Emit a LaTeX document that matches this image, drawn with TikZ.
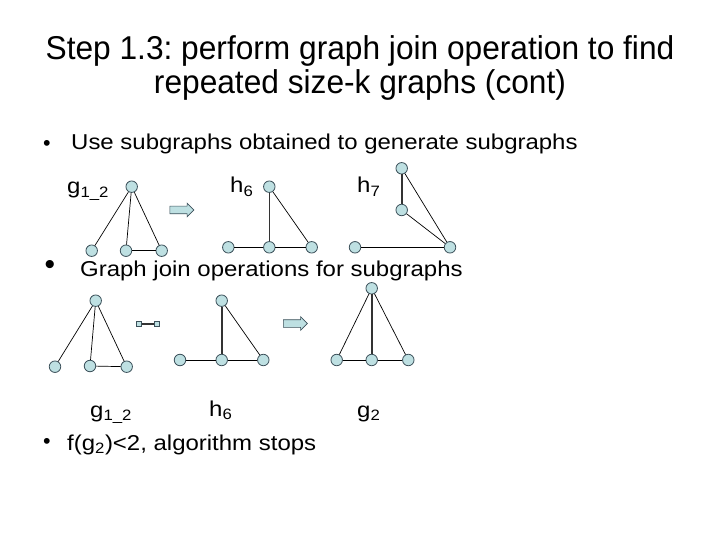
\documentclass[tikz,border=0pt]{standalone}
\usepackage{fontspec}
\setmainfont{Liberation Sans}
\newfontfamily\titlefont{Liberation Sans}[FakeStretch=0.96]
\newfontfamily\bodyfont{Liberation Sans}[FakeStretch=1.115]
\usetikzlibrary{shapes.arrows}
\definecolor{vfill}{RGB}{190,224,226}
\definecolor{vdraw}{RGB}{60,80,90}
\frenchspacing
\begin{document}
\begin{tikzpicture}[x=1pt,y=-1pt,
  vtx/.style={circle,draw=vdraw,fill=vfill,line width=0.8pt,minimum size=11.5pt,inner sep=0pt},
  edg/.style={draw=black,line width=0.7pt},
  thk/.style={draw=black!80,line width=1.6pt},
  ttl/.style={font=\titlefont\fontsize{33}{38}\selectfont,anchor=base,inner sep=0pt},
  txt/.style={font=\bodyfont\fontsize{21.5}{26}\selectfont,anchor=base west,inner sep=0pt},
  bul/.style={font=\fontsize{21.5}{26}\selectfont,anchor=center,inner sep=0pt},
  blockarrow/.style={single arrow,draw=vdraw,fill=vfill,line width=0.6pt,minimum height=24pt,inner xsep=0pt,inner ysep=3.5pt,single arrow head extend=3pt},
  joinend/.style={draw=vdraw,fill=vfill,line width=0.6pt,minimum width=5pt,minimum height=5pt,inner sep=0pt}]
\useasboundingbox (0,0) rectangle (720,540);
\fill[white] (0,0) rectangle (720,540);
% title
\node[ttl] (t1) at (360,60) {\frenchspacing Step 1.3: perform graph join operation to find};
\node[ttl] (t2) at (360,94) {repeated size-k graphs (cont)};
% bullets
\node[bul] (b1) at (47,145) {\textbullet};
\node[txt] (s1) at (71,149.5) {Use subgraphs obtained to generate subgraphs};
\node[bul,font=\fontsize{30}{34}\selectfont] (b2) at (50,267) {\textbullet};
\node[txt] (s2) at (80,276) {Graph join operations for subgraphs};
\node[bul] (b3) at (47,443) {\textbullet};
\node[txt] (s3) at (67,450) {f(g\textsubscript{2})<2, algorithm stops};
% labels row 1
\node[txt] (lg12a) at (67,194) {g\textsubscript{1\_2}};
\node[txt] (lh6a) at (230,193) {h\textsubscript{6}};
\node[txt] (lh7a) at (357,193) {h\textsubscript{7}};
% labels row 2
\node[txt] (lg12b) at (90,417) {g\textsubscript{1\_2}};
\node[txt] (lh6b) at (209,416) {h\textsubscript{6}};
\node[txt] (lg2) at (357,417) {g\textsubscript{2}};
% row1 g1_2
\node[vtx] (a0) at (131.7,186.7) {};
\node[vtx] (a1) at (91.7,250.7) {};
\node[vtx] (a2) at (126,250.7) {};
\node[vtx] (a3) at (161.7,250.7) {};
\draw[edg] (a0) -- (a1); \draw[edg] (a0) -- (a2); \draw[edg] (a0) -- (a3); \draw[edg] (a2) -- (a3);
\node[blockarrow] (ar1) at (180,210) {};
% row1 h6
\node[vtx] (b0) at (269.3,186.7) {};
\node[vtx] (bl) at (228.3,247.3) {};
\node[vtx] (bm) at (269.3,247.3) {};
\node[vtx] (br) at (311.7,247.3) {};
\draw[thk] (b0) -- (bm); \draw[edg] (b0) -- (br); \draw[edg] (bl) -- (bm); \draw[edg] (bm) -- (br);
% row1 h7
\node[vtx] (c0) at (401.7,168.3) {};
\node[vtx] (c1) at (401.7,210) {};
\node[vtx] (cl) at (355,247.3) {};
\node[vtx] (cr) at (450,247.3) {};
\draw[thk] (c0) -- (c1); \draw[edg] (c0) -- (cr); \draw[edg] (c1) -- (cr); \draw[edg] (cl) -- (cr);
% row2 g1_2
\node[vtx] (d0) at (95.7,300.7) {};
\node[vtx] (d1) at (55,366.7) {};
\node[vtx] (d2) at (90,366) {};
\node[vtx] (d3) at (126.7,366.7) {};
\draw[edg] (d0) -- (d1); \draw[edg] (d0) -- (d2); \draw[edg] (d0) -- (d3); \draw[edg] (d2) -- (d3);
% join symbol
\node[joinend] (j1) at (139,324) {};
\node[joinend] (j2) at (156.5,324) {};
\draw[line width=1.2pt,black!80] (j1) -- (j2);
% row2 h6
\node[vtx] (e0) at (221.7,300.7) {};
\node[vtx] (el) at (180,360) {};
\node[vtx] (em) at (221.7,360) {};
\node[vtx] (er) at (263.3,360) {};
\draw[thk] (e0) -- (em); \draw[edg] (e0) -- (er); \draw[edg] (el) -- (em); \draw[edg] (em) -- (er);
\node[blockarrow] (ar2) at (293.5,323.5) {};
% row2 g2
\node[vtx] (f0) at (371.7,288.3) {};
\node[vtx] (fl) at (336.7,360) {};
\node[vtx] (fm) at (371.7,360) {};
\node[vtx] (fr) at (408.3,360) {};
\draw[edg] (f0) -- (fl); \draw[thk] (f0) -- (fm); \draw[edg] (f0) -- (fr); \draw[edg] (fl) -- (fm); \draw[edg] (fm) -- (fr);
\end{tikzpicture}
\end{document}
